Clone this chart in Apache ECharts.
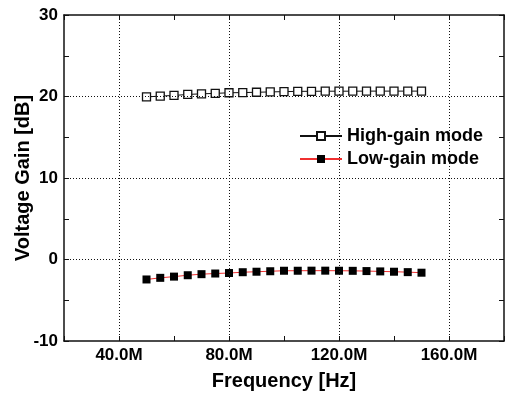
<!DOCTYPE html>
<html>
<head>
<meta charset="utf-8">
<script src="https://cdn.jsdelivr.net/npm/echarts@6/dist/echarts.min.js"></script>
<style>
  html, body { margin: 0; padding: 0; background: #fff; }
  #chart { width: 506px; height: 394px; }
</style>
</head>
<body>
<div id="chart"></div>
<script>
const freqs = [50e6, 55e6, 60e6, 65e6, 70e6, 75e6, 80e6, 85e6, 90e6, 95e6, 100e6,
  105e6, 110e6, 115e6, 120e6, 125e6, 130e6, 135e6, 140e6, 145e6, 150e6];
const highGain = [19.95, 20.05, 20.13, 20.25, 20.33, 20.38, 20.46, 20.48, 20.52, 20.56, 20.6,
  20.63, 20.64, 20.65, 20.65, 20.65, 20.66, 20.66, 20.66, 20.66, 20.66];
const lowGain = [-2.45, -2.25, -2.1, -1.93, -1.8, -1.72, -1.66, -1.56, -1.5, -1.44, -1.38,
  -1.38, -1.37, -1.37, -1.38, -1.39, -1.42, -1.46, -1.5, -1.55, -1.62];
const xGridLines = [40e6, 80e6, 120e6, 160e6];
const yGridLines = [0, 10, 20];

const font = '"Liberation Sans", Arial, sans-serif';
const black = '#111';

const chart = echarts.init(document.getElementById('chart'), null, { renderer: 'canvas' });

const xBase = {
  type: 'value',
  min: 20e6,
  max: 180e6,
  interval: 20e6,
  axisLine: { show: true, onZero: false, lineStyle: { color: black, width: 1.5 } },
  axisTick: { show: true, inside: true, length: 5, lineStyle: { color: black, width: 1 } },
  splitLine: { show: false },
};
const yBase = {
  type: 'value',
  min: -10,
  max: 30,
  interval: 5,
  axisLine: { show: true, onZero: false, lineStyle: { color: black, width: 1.5 } },
  axisTick: { show: true, inside: true, length: 5, lineStyle: { color: black, width: 1 } },
  splitLine: { show: false },
};

const gridLine = { color: '#111', width: 1, type: [1, 2] };

const option = {
  animation: false,
  backgroundColor: '#fff',
  grid: { left: 64, top: 15, right: 2, bottom: 53, outerBoundsMode: 'none' },
  legend: {
    orient: 'vertical',
    left: 294,
    top: 122,
    itemWidth: 42,
    itemHeight: 10,
    itemGap: 5,
    textStyle: { fontFamily: font, fontWeight: 'bold', fontSize: 18, color: '#000' },
    data: ['High-gain mode', 'Low-gain mode'],
  },
  xAxis: [
    {
      ...xBase,
      position: 'bottom',
      name: 'Frequency [Hz]',
      nameLocation: 'middle',
      nameGap: 30,
      nameTextStyle: { fontFamily: font, fontWeight: 'bold', fontSize: 20, color: '#000' },
      axisLabel: {
        margin: 6,
        fontFamily: font, fontWeight: 'bold', fontSize: 17, color: '#000',
        formatter: v => (v % 40e6 === 0 ? (v / 1e6).toFixed(1) + 'M' : ''),
      },
    },
    { ...xBase, position: 'top', axisLabel: { show: false } },
  ],
  yAxis: [
    {
      ...yBase,
      position: 'left',
      name: 'Voltage Gain [dB]',
      nameLocation: 'middle',
      nameGap: 31,
      nameMoveOverlap: false,
      nameTextStyle: { fontFamily: font, fontWeight: 'bold', fontSize: 20, color: '#000' },
      axisLabel: {
        margin: 6,
        fontFamily: font, fontWeight: 'bold', fontSize: 17, color: '#000',
        formatter: v => (v % 10 === 0 ? String(v) : ''),
      },
    },
    { ...yBase, position: 'right', axisLabel: { show: false } },
  ],
  series: [
    {
      name: 'High-gain mode',
      type: 'line',
      data: freqs.map((f, i) => [f, highGain[i]]),
      symbol: 'rect',
      symbolSize: 8,
      lineStyle: { color: black, width: 1 },
      itemStyle: { color: '#fff', borderColor: black, borderWidth: 1.3 },
      z: 3,
      markLine: {
        silent: true,
        symbol: 'none',
        label: { show: false },
        lineStyle: gridLine,
        data: xGridLines.map(v => ({ xAxis: v })).concat(yGridLines.map(v => ({ yAxis: v }))),
      },
    },
    {
      name: 'Low-gain mode',
      type: 'line',
      data: freqs.map((f, i) => [f, lowGain[i]]),
      symbol: 'rect',
      symbolSize: 8,
      lineStyle: { color: '#f03030', width: 1 },
      itemStyle: { color: '#000', borderColor: '#000', borderWidth: 0 },
      z: 3,
    },
  ],
};

chart.setOption(option);
</script>
</body>
</html>
